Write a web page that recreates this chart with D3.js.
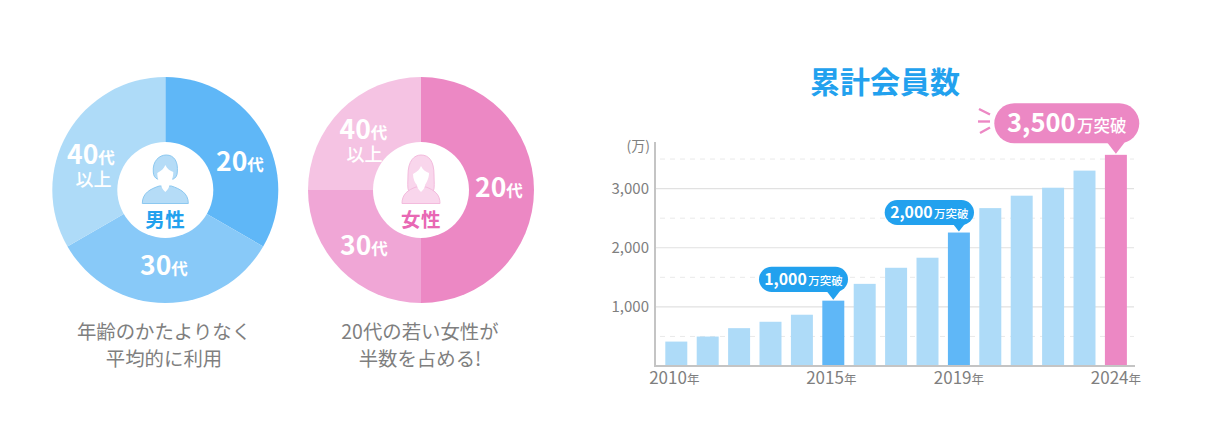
<!DOCTYPE html>
<html lang="ja"><head><meta charset="utf-8">
<script src="https://cdn.jsdelivr.net/npm/d3@7/dist/d3.min.js"></script>
<style>
html,body{margin:0;padding:0;background:#fff}
svg{display:block}
text{font-family:"Noto Sans CJK JP","Noto Sans",sans-serif}
</style></head><body>
<svg id="c" width="1206" height="422"></svg>
<script>
// ---- data ----
const ageGroups = ["20代","30代","40代以上"];
const maleShare = [33.33,33.33,33.34];
const femaleShare = [50,25,25];
const years = [2010,2011,2012,2013,2014,2015,2016,2017,2018,2019,2020,2021,2022,2023,2024];
const members = [413,498,640,748,867,1105,1389,1661,1831,2257,2670,2880,3015,3304,3571];
const yTicks = [1000,2000,3000];
const yMinorTicks = [500,1500,2500,3500];
const xTickYears = [2010,2015,2019,2024];
const milestones = [2015,2019,2024];
const milestoneLabels = ["1,000","2,000","3,500"];
const captionMale = ["年齢のかたよりなく","平均的に利用"];
const captionFemale = ["20代の若い女性が","半数を占める!"];

// ---- style ----
const BLUE=["#5fb7f7","#88c9f8","#aedbf8"], PINK=["#ec88c4","#f0a6d6","#f5c3e3"];
const GREY="#7f7f7f", TITLE="#22a1ee";
const svg=d3.select("#c");

function label(g,x,y,parts,anchor,fill){
  const t=g.append("text").attr("x",x).attr("y",y).attr("text-anchor",anchor||"start").attr("fill",fill||"#fff");
  parts.forEach(p=>t.append("tspan").text(p[0]).attr("font-size",p[1]).attr("font-weight",p[2]||700));
  return t;
}

// ---- donuts ----
function donut(cx,cy,values,colors,name,nameColor,icon){
  const g=svg.append("g").attr("transform",`translate(${cx},${cy})`);
  const arc=d3.arc().innerRadius(0).outerRadius(113);
  const pie=d3.pie().sort(null).value(d=>d);
  g.selectAll("path.s").data(pie(values)).join("path").attr("class","s").attr("d",arc).attr("fill",(d,i)=>colors[i]);
  g.append("circle").attr("r",48).attr("fill","#fff");
  icon(g);
  g.append("text").attr("y",36.5).attr("text-anchor","middle").attr("font-size",19.5).attr("font-weight",700)
   .attr("letter-spacing",0.5).attr("fill",nameColor).text(name);
  return g;
}
function maleIcon(g){
  g.append("path").attr("d","M-23 13.5C-23 3-15-1-6-4L6-4C15-1 23 3 23 13.5Z").attr("fill","#b5dcf7").attr("stroke","#8cc8f0").attr("stroke-width",1);
  g.append("path").attr("d","M-12-18C-13-29-6-35 1-35C9-35 13-28 12-18C12-14 10-12 8-11L-8-11C-10-12-12-14-12-18Z").attr("fill","#b5dcf7").attr("stroke","#8cc8f0").attr("stroke-width",1);
  g.append("path").attr("d","M-8-17C-4-19-1-22 0-25C2-21 5-19 8-18C8-11 5-7 4-5C4-3 3-1 0 2C-3-1-4-3-4-5C-6-7-8-11-8-17Z").attr("fill","#fff");
}
function femaleIcon(g){
  g.append("path").attr("d","M-13-15C-13-29-7-35 0-35C8-35 13-29 13-15C13-8 14-2 12 2L-12 2C-14-2-13-8-13-15Z").attr("fill","#f9d6ec").attr("stroke","#f3bbdd").attr("stroke-width",1);
  g.append("path").attr("d","M-19 13.5C-19 4-13 0-5-3L5-3C13 0 19 4 19 13.5Z").attr("fill","#f9d6ec").attr("stroke","#f3bbdd").attr("stroke-width",1);
  g.append("path").attr("d","M-8-16C-4-18-1-21 0-24C2-20 5-18 8-17C8-11 5-7 4-5C4-3 3-1 0 2C-3-1-4-3-4-5C-6-7-8-11-8-16Z").attr("fill","#fff");
}
donut(165.3,190,maleShare,BLUE,"男性","#22a1ee",maleIcon);
donut(421,190,femaleShare,PINK,"女性","#e868b4",femaleIcon);

const pl=svg.append("g");
label(pl,216,170.7,[["20",26.5],["代",16.5]]);
label(pl,140,275,[["30",26.5],["代",16.5]]);
label(pl,67,164,[["40",26.5],["代",16.5]]);
label(pl,93.5,186,[["以上",18,500]],"middle");
label(pl,475,196.7,[["20",26.5],["代",16.5]]);
label(pl,340,255,[["30",26.5],["代",16.5]]);
label(pl,339.5,139.3,[["40",26.5],["代",16.5]]);
label(pl,364.5,161,[["以上",18,500]],"middle");

function caption(cx,lines){
  lines.forEach((s,i)=>svg.append("text").attr("x",cx).attr("y",338.5+i*27.5).attr("text-anchor","middle")
    .attr("font-size",19.4).attr("font-weight",400).attr("fill",GREY).text(s));
}
caption(164,captionMale);
caption(420,captionFemale);

// ---- bar chart ----
svg.append("text").attr("x",885).attr("y",93).attr("text-anchor","middle").attr("font-size",30)
   .attr("font-weight",700).attr("fill",TITLE).text("累計会員数");

const x=d3.scaleBand().domain(years).range([660.6,1131.6]).paddingInner(0.3).paddingOuter(0.15);
const y=d3.scaleLinear().domain([0,3000]).range([366,188.6]);

const gridRight=1134;
svg.append("g").selectAll("line").data(yMinorTicks).join("line")
  .attr("x1",660).attr("x2",gridRight).attr("y1",d=>y(d)).attr("y2",d=>y(d))
  .attr("stroke","#e9e9e9").attr("stroke-width",1).attr("stroke-dasharray","5 5");
svg.append("g").selectAll("line").data(yTicks).join("line")
  .attr("x1",656).attr("x2",gridRight).attr("y1",d=>y(d)).attr("y2",d=>y(d))
  .attr("stroke","#e1e1e1").attr("stroke-width",1.2);

svg.append("g").selectAll("rect").data(years).join("rect")
  .attr("x",d=>x(d)).attr("width",x.bandwidth())
  .attr("y",(d,i)=>y(members[i])).attr("height",(d,i)=>y(0)-y(members[i]))
  .attr("fill",d=>d===2024?PINK[0]:milestones.includes(d)?BLUE[0]:BLUE[2]);

// axes
const yAxis=svg.append("g").attr("transform","translate(655,0)")
  .call(d3.axisLeft(y).tickValues(yTicks).tickSize(0).tickPadding(6).tickFormat(d3.format(",")));
yAxis.select(".domain").remove();
yAxis.selectAll("text").attr("font-size",15).attr("fill",GREY).attr("font-family",'"Noto Sans CJK JP"');
const xAxis=svg.append("g").attr("transform","translate(0,366)")
  .call(d3.axisBottom(x).tickValues(xTickYears).tickSize(0).tickPadding(0).tickFormat(""));
xAxis.select(".domain").remove();
xAxis.selectAll(".tick").each(function(d){
  const t=d3.select(this).select("text").text(null).attr("y",18).attr("dy",0).attr("fill",GREY).attr("text-anchor","middle").attr("x",d===2015||d===2010?-2:0);
  t.append("tspan").text(d).attr("font-size",17);
  t.append("tspan").text("年").attr("font-size",12.5);
});
svg.append("line").attr("x1",655).attr("x2",655).attr("y1",142).attr("y2",367).attr("stroke","#c4c4c4").attr("stroke-width",2);
svg.append("line").attr("x1",654).attr("x2",1135).attr("y1",366).attr("y2",366).attr("stroke","#c4c4c4").attr("stroke-width",2);
svg.append("text").attr("x",650).attr("y",151).attr("text-anchor","end").attr("font-size",14).attr("fill",GREY).text("(万)");

// ---- call-outs ----
function bubble(year,i,left,right,top,bottom,fill,fsN,fsU){
  const cx=x(year)+x.bandwidth()/2, tip=y(members[years.indexOf(year)])-1;
  const g=svg.append("g");
  const r=(bottom-top)/2;
  g.append("rect").attr("x",left).attr("y",top).attr("width",right-left).attr("height",bottom-top).attr("rx",r).attr("fill",fill);
  const w=(tip-bottom)*0.75+1;
  g.append("path").attr("d",d3.line()([[cx-w,bottom-1],[cx+w,bottom-1],[cx,tip]])).attr("fill",fill);
  const t=g.append("text").attr("x",(left+right)/2).attr("y",(top+bottom)/2+fsN*0.36).attr("text-anchor","middle").attr("fill","#fff");
  t.append("tspan").text(milestoneLabels[i]).attr("font-size",fsN).attr("font-weight",700);
  t.append("tspan").text("万突破").attr("font-size",fsU).attr("font-weight",500).attr("dx",1.5);
}
bubble(2015,0,759,848,266.7,292,"#22a1ee",15.8,11.5);
bubble(2019,1,884.7,974,200,225,"#22a1ee",15.8,11.5);
bubble(2024,2,994.3,1139.3,103.3,143.3,PINK[0],25.5,16.5);
const spark=[[979,109,990,114.5],[978,121.5,990,121.5],[980,133,990,127.5]];
svg.append("g").selectAll("line").data(spark).join("line")
  .attr("x1",d=>d[0]).attr("y1",d=>d[1]).attr("x2",d=>d[2]).attr("y2",d=>d[3])
  .attr("stroke",PINK[0]).attr("stroke-width",2.4);
</script>
</body></html>
